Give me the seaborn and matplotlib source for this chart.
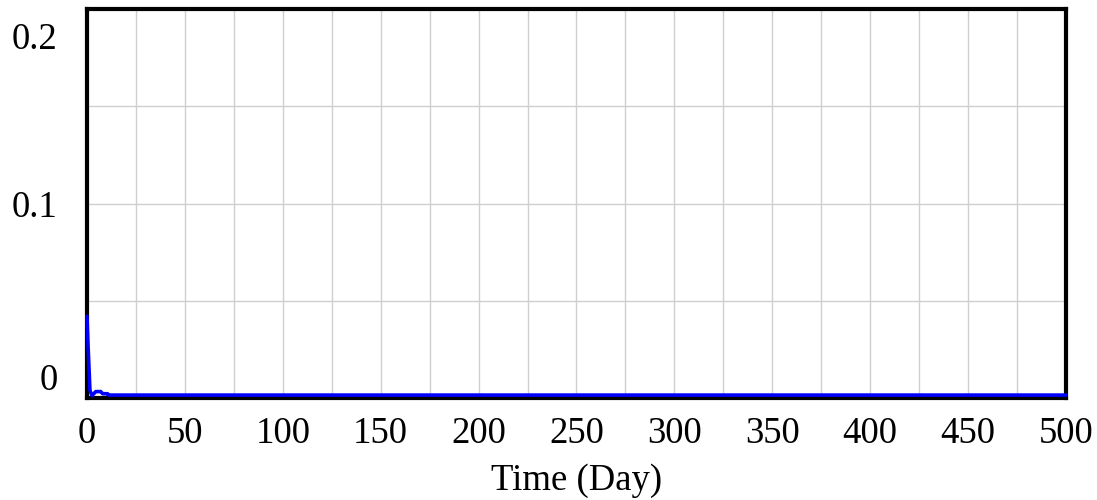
import pandas as pd
import matplotlib.pyplot as plt
import matplotlib.transforms as mtransforms
import seaborn as sns

# values (Vensim style output)
time_day = [0, 0.5, 1.5, 2.5, 4.5, 7, 8, 10.5, 11, 500]
value = [0.042, 0.028, 0.004, 0.0012, 0.0033, 0.0033, 0.0022, 0.0022, 0.0015, 0.0015]
x_ticks = [0, 50, 100, 150, 200, 250, 300, 350, 400, 450, 500]
y_ticks = [0, 0.05, 0.1, 0.15, 0.2]
y_labels = ['0', '', '0.1', '', '0.2']

df = pd.DataFrame({'Time (Day)': time_day, 'value': value})

sns.set_style("white")
plt.rcParams['font.family'] = ['Liberation Serif', 'DejaVu Serif']
plt.rcParams['text.color'] = 'black'
plt.rcParams['xtick.color'] = 'black'
plt.rcParams['ytick.color'] = 'black'
plt.rcParams['axes.labelcolor'] = 'black'

fig = plt.figure(figsize=(10.97, 5), dpi=100)
ax = fig.add_axes([0.0793, 0.204, 0.8924, 0.778])

sns.lineplot(x='Time (Day)', y='value', data=df, color='#0000ff', linewidth=2.6, ax=ax)
for ln in ax.lines:
    ln.set_zorder(5)
    ln.set_clip_on(False)

ax.set_xlim(0, 500)
ax.set_ylim(0, 0.2)
ax.set_xticks(x_ticks)
ax.set_xticks(range(0, 501, 25), minor=True)
ax.set_yticks(y_ticks)
ax.set_yticklabels(y_labels)
ax.grid(True, which='both', color='#cfcfcf', linewidth=1)
ax.tick_params(axis='both', which='both', length=0, labelsize=26.5)
ax.tick_params(axis='y', pad=21)
ax.tick_params(axis='x', pad=13)

# vensim puts the end labels inside the axis range
ylabs = ax.get_yticklabels()
ylabs[0].set_va('bottom')
ylabs[-1].set_va('top')
ylabs[-1].set_transform(ylabs[-1].get_transform() +
                        mtransforms.ScaledTranslation(0, -10 / 72, fig.dpi_scale_trans))

for s in ax.spines.values():
    s.set_visible(True)
    s.set_color('black')
    s.set_linewidth(3)
    s.set_zorder(4)

ax.set_xlabel('Time (Day)', fontsize=26.5, labelpad=9)
ax.set_ylabel('')

plt.savefig('out.png', dpi=100)
